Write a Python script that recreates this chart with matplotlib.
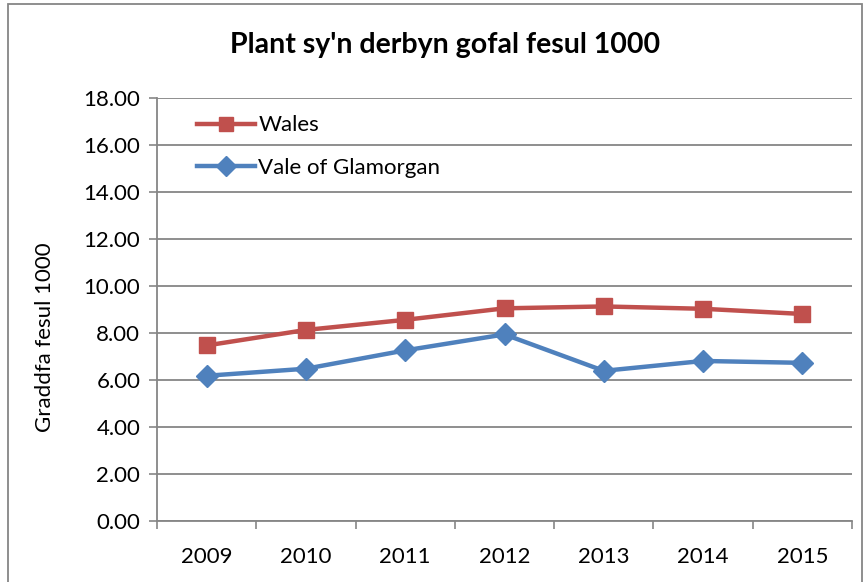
import matplotlib
matplotlib.use("Agg")
import matplotlib.pyplot as plt
from matplotlib.patches import Rectangle
from matplotlib.ticker import FixedLocator, FormatStrFormatter

years = ["2009", "2010", "2011", "2012", "2013", "2014", "2015"]
wales = [7.47, 8.13, 8.56, 9.05, 9.13, 9.03, 8.81]
vale = [6.18, 6.48, 7.26, 7.94, 6.39, 6.81, 6.73]
title = "Plant sy'n derbyn gofal fesul 1000"
ylabel = "Graddfa fesul 1000"
series_names = ["Wales", "Vale of Glamorgan"]

plt.rcParams['font.family'] = ['Lato', 'DejaVu Sans']

fig = plt.figure(figsize=(8.65, 5.82), dpi=100)
ax = fig.add_axes([157/865, 1-521/582, (852-157)/865, (521-98)/582])

grid_c = "#868686"
x = list(range(len(years)))
ax.plot(x, wales, color="#C0504D", lw=3.2, marker="s", ms=11.5, label=series_names[0], zorder=3)
ax.plot(x, vale, color="#4F81BD", lw=3.2, marker="D", ms=11.5, label=series_names[1], zorder=3)

ax.set_xlim(-0.5, len(years) - 0.5)
ax.set_ylim(0, 18)
ax.set_yticks([0, 2, 4, 6, 8, 10, 12, 14, 16, 18])
ax.yaxis.set_major_formatter(FormatStrFormatter("%.2f"))
ax.set_xticks(x)
ax.set_xticklabels(years)
ax.xaxis.set_minor_locator(FixedLocator([i - 0.5 for i in range(len(years) + 1)]))
ax.tick_params(axis="x", which="major", length=0, pad=19, labelsize=16)
ax.tick_params(axis="x", which="minor", length=6, color=grid_c, width=1.2)
ax.tick_params(axis="y", length=6, color=grid_c, width=1.2, labelsize=16, pad=6)
ax.grid(axis="y", color=grid_c, lw=1.3)
ax.set_axisbelow(True)
for s in ["top", "right"]:
    ax.spines[s].set_visible(False)
for s in ["left", "bottom"]:
    ax.spines[s].set_color(grid_c)
    ax.spines[s].set_linewidth(1.3)

ax.set_ylabel(ylabel, fontsize=16, va="center")
ax.yaxis.set_label_coords(-0.161, 0.435)
fig.text(445/865, 1-45/582, title, ha="center", va="center", fontsize=20.5, fontweight="bold")

leg = ax.legend(loc="upper left", bbox_to_anchor=(0.045, 0.98), frameon=False, fontsize=16,
                handlelength=2.6, labelspacing=1.0, handletextpad=0.15, borderaxespad=0,
                markerscale=0.85)

fig.patches.append(Rectangle((8/865, -0.01), (862-8)/865, 1 - 4/582 + 0.01, transform=fig.transFigure,
                             fill=False, edgecolor=grid_c, lw=1.3))

fig.savefig("out.png", dpi=100)
